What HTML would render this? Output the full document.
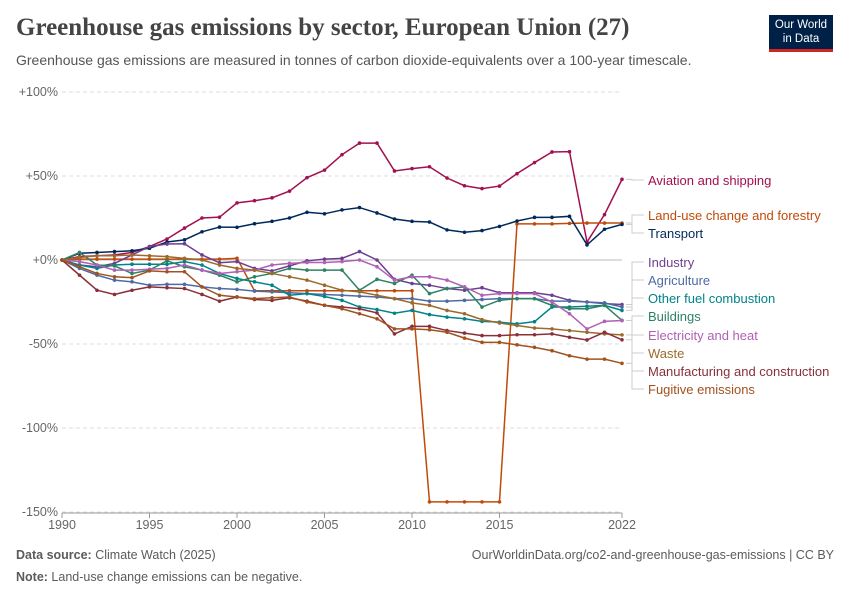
<!DOCTYPE html>
<html><head><meta charset="utf-8">
<style>
body{margin:0;background:#fff;font-family:"Liberation Sans",sans-serif;}
#wrap{position:relative;width:850px;height:600px;overflow:hidden;}
.title{position:absolute;left:16px;top:14px;font-family:"Liberation Serif",serif;font-size:25px;font-weight:bold;color:#444;}
.sub{position:absolute;left:16px;top:52px;font-size:14px;color:#555;}
.logo{position:absolute;left:769px;top:15px;width:64px;height:37px;background:#002147;color:#fff;font-size:11.5px;line-height:14px;text-align:center;padding-top:3px;box-sizing:border-box;border-bottom:3px solid #ce261e;}
.foot{position:absolute;font-size:12.5px;color:#5b5b5b;}
</style></head><body>
<div id="wrap">
<div class="title">Greenhouse gas emissions by sector, European Union (27)</div>
<div class="sub">Greenhouse gas emissions are measured in tonnes of carbon dioxide-equivalents over a 100-year timescale.</div>
<div class="logo">Our World<br>in Data</div>
<svg id="chart" width="850" height="600" style="position:absolute;left:0;top:0"></svg>
<div class="foot" style="left:16px;top:548px"><b>Data source:</b> Climate Watch (2025)</div>
<div class="foot" style="right:16px;top:548px">OurWorldinData.org/co2-and-greenhouse-gas-emissions | CC BY</div>
<div class="foot" style="left:16px;top:570px"><b>Note:</b> Land-use change emissions can be negative.</div>
</div>
<script>
const years=[];for(let y=1990;y<=2022;y++)years.push(y);
const yTicks=[100,50,0,-50,-100,-150];
const yTickLabels=["+100%","+50%","+0%","-50%","-100%","-150%"];
const xTicks=[1990,1995,2000,2005,2010,2015,2022];
const aviation=[0,2,2.5,3,4.5,8,12.5,19,25,25.5,34,35.3,37,41,49,53.5,62.7,69.6,69.6,53,54.4,55.5,48.8,44.2,42.5,44,51.4,58,64.3,64.5,10.7,27,48];
const transport=[0,4,4.5,5,5.5,7,10.7,12,16.8,19.6,19.5,21.6,23,25,28.4,27.5,29.8,31.2,28,24.4,23,22.6,17.9,16.5,17.5,20,23.2,25.4,25.4,26,9,18.3,21.2];
const landuse=[0,0.5,0.5,0.5,0.5,0.5,0.5,0.5,0.5,0.5,1,-18.3,-18.3,-18.3,-18.3,-18.3,-18.3,-18.3,-18.3,-18.3,-18.3,-144,-144,-144,-144,-144,21.5,21.5,21.5,21.8,22,22,22];
const industry=[0,-3,-4,-2,3,8,9.5,9.7,3,-1.6,-1,-5,-6.5,-3.5,-0.5,0.5,1,5,0,-11.5,-14,-15,-17,-18,-16.5,-19.5,-19.5,-19.5,-21,-24,-25,-26,-26.5];
const agriculture=[0,-5,-9,-12,-13,-15,-14.5,-14.5,-16,-17,-17.5,-18.5,-19,-19.5,-20,-20.5,-21,-21.5,-22,-23,-23,-24.5,-24.5,-24,-23.5,-23,-23,-23,-24.5,-24.5,-25,-25.5,-28];
const otherfuel=[0,-3,-5,-3,-2.5,-2.5,-2.5,-1,-3,-8,-11,-13,-15,-21,-20,-21.7,-24,-28,-29.5,-31.7,-30,-32.5,-34,-35,-36.5,-37,-38,-36.7,-28,-28,-27.5,-27,-30];
const buildings=[0,4.5,-3,-3.5,-8,-6,-0.5,-4,-6,-9,-13,-10,-8,-5,-6,-6,-6,-18,-11.5,-14,-9,-20,-17,-16,-28,-24,-23,-23,-27,-29,-29,-27,-36];
const electricity=[0,-1,-3,-6,-6,-5.5,-5,-3,-6,-8,-7,-6,-3,-2,-1.5,-1.5,-1,0,-4,-12,-10,-10,-12,-16,-21,-20,-20,-20,-25,-32,-41,-36.5,-36];
const waste=[0,1.5,2.5,2.5,3,2.5,2,1,0,-3,-5,-6,-8,-10,-12,-15,-18,-19,-21,-23,-25.5,-27,-30,-32,-35.5,-37.5,-39,-40.5,-41,-42,-43,-44,-44.6];
const manufacturing=[0,-9,-18,-20.5,-18,-16,-16.5,-17,-20.5,-24.5,-22,-23.5,-24,-22.5,-24.5,-27,-28,-29,-31.5,-44,-39.5,-39.5,-42,-43.5,-45,-45,-44.5,-44.5,-44,-46,-47.6,-43,-47.5];
const fugitive=[0,-4,-8,-10,-10.5,-6.5,-7,-7,-16,-21,-22,-23,-22.5,-22,-25,-27,-29,-32,-35,-41,-41,-41.5,-43,-46.5,-49,-49,-50.5,-52,-54,-57,-59,-59,-61.5];
const seriesNames=["Aviation and shipping","Land-use change and forestry","Transport","Industry","Agriculture","Other fuel combustion","Buildings","Electricity and heat","Waste","Manufacturing and construction","Fugitive emissions"];
const seriesData=[aviation,landuse,transport,industry,agriculture,otherfuel,buildings,electricity,waste,manufacturing,fugitive];
const colors=["#a2104f","#c04a0a","#00295b","#6d3e91","#4f6ba4","#00838a","#2d8262","#b060b5","#9b6a2c","#883039","#a0521f"];
const labelY=[180,215,233,262,280,298,316,335,353,371,389];

const svg=document.getElementById('chart');const NS='http://www.w3.org/2000/svg';
const x0=62,x1=622,y0=260,pxPerPct=1.68;
const X=y=>x0+(y-1990)*(x1-x0)/(2022-1990);
const Y=v=>y0-v*pxPerPct;
function mk(t,a){const e=document.createElementNS(NS,t);for(const k in a)e.setAttribute(k,a[k]);svg.appendChild(e);return e;}
yTicks.forEach((t,i)=>{
 const l=mk('line',{x1:x0,x2:x1,y1:Y(t),y2:Y(t),stroke:t===0?'#bbb':'#ddd','stroke-dasharray':t===0?'':'4,3','stroke-width':1});
 
 
 const tx=mk('text',{x:x0-4,y:Y(t)+4,'text-anchor':'end','font-size':12.5,fill:'#666'});tx.textContent=yTickLabels[i];
 
 
});
const ax=mk('line',{x1:x0,x2:x1,y1:Y(-150)+1,y2:Y(-150)+1,stroke:'#999'});


xTicks.forEach(t=>{
 const tk=mk('line',{x1:X(t),x2:X(t),y1:Y(-150)+1,y2:Y(-150)+6,stroke:'#999'});
 
 
 const tx=mk('text',{x:X(t),y:Y(-150)+17,'text-anchor':'middle','font-size':12.5,fill:'#666'});tx.textContent=t;
 
 
});
seriesData.forEach((d,i)=>{
 const pts=d.map((v,j)=>X(years[j])+','+Y(v)).join(' ');
 const pl=mk('polyline',{points:pts,fill:'none',stroke:colors[i],'stroke-width':1.5});
 
 
 d.forEach((v,j)=>{const c=mk('circle',{cx:X(years[j]),cy:Y(v),r:1.8,fill:colors[i]});
  
  });
 const ly=labelY[i],ey=Y(d[d.length-1]);
 const con=mk('polyline',{points:`${x1+4},${ey} ${x1+10},${ey} ${x1+10},${ly} ${x1+22},${ly}`,fill:'none',stroke:'#ccc','stroke-width':1});
 
 
 const lt=mk('text',{x:648,y:ly+5,'font-size':13,fill:colors[i]});lt.textContent=seriesNames[i];
 
 
});
</script>
</body></html>
